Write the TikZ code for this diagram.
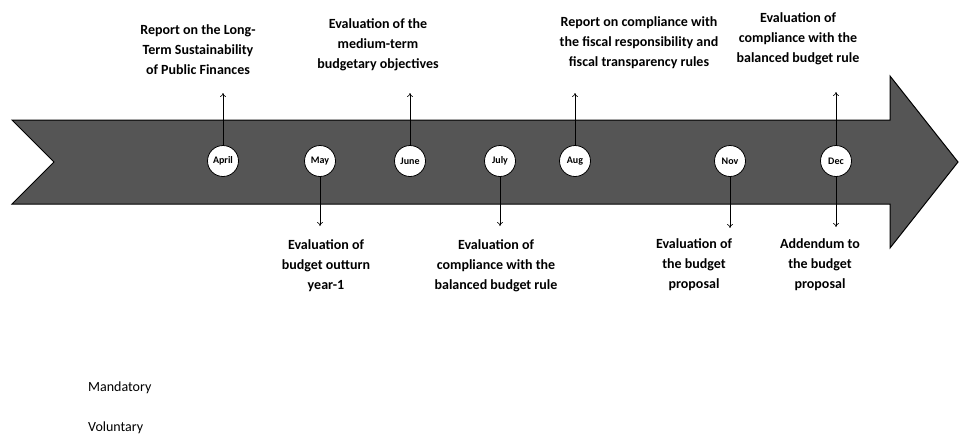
\documentclass[tikz,border=0pt]{standalone}
\usepackage{fontspec}
\setmainfont{Carlito}
\usetikzlibrary{arrows.meta}
\definecolor{band}{RGB}{85,85,85}
\begin{document}
\begin{tikzpicture}[x=1pt,y=-1pt,
  lbl/.style={align=center,font=\fontsize{14}{20}\selectfont\bfseries,inner sep=0pt},
  month/.style={circle,draw=black,fill=white,line width=0.8pt,minimum size=31pt,inner sep=0pt,font=\fontsize{10}{11}\selectfont\bfseries},
  conn/.style={draw=black,line width=0.6pt,-{To[length=4pt,width=6pt]}},
  leg/.style={anchor=west,font=\fontsize{14}{16}\selectfont,inner sep=0pt}]
\useasboundingbox (0,0) rectangle (961,437);
% timeline arrow
\fill[band,draw=black,line width=1pt] (12,120) -- (890,120) -- (890,76) -- (958,162) -- (890,248) -- (890,204) -- (12,204) -- (54,162) -- cycle;
% months
\node[month] (apr) at (223,161) {April};
\node[month] (may) at (320,161) {May};
\node[month] (jun) at (410,161) {June};
\node[month] (jul) at (500,161) {July};
\node[month] (aug) at (575,161) {Aug};
\node[month] (nov) at (730,161) {Nov};
\node[month] (dec) at (836,161) {Dec};
% arrow ends
\coordinate (aprT) at (223,93);
\coordinate (junT) at (410,93);
\coordinate (augT) at (575,93);
\coordinate (decT) at (836,92);
\coordinate (mayB) at (320,226);
\coordinate (julB) at (500,226);
\coordinate (novB) at (730,228);
\coordinate (decB) at (836,227);
\draw[conn] (apr.north) -- (aprT);
\draw[conn] (jun.north) -- (junT);
\draw[conn] (aug.north) -- (augT);
\draw[conn] (dec.north) -- (decT);
\draw[conn] (may.south) -- (mayB);
\draw[conn] (jul.south) -- (julB);
\draw[conn] (nov.south) -- (novB);
\draw[conn] (dec.south) -- (decB);
% top labels
\node[lbl] (t1) at (198,50) {Report on the Long-\\Term Sustainability\\of Public Finances};
\node[lbl] (t2) at (378,45) {Evaluation of the\\medium-term\\budgetary objectives};
\node[lbl] (t3) at (639,43) {Report on compliance with\\the fiscal responsibility and\\fiscal transparency rules};
\node[lbl] (t4) at (798,39) {Evaluation of\\compliance with the\\balanced budget rule};
% bottom labels
\node[lbl] (b1) at (326,266) {Evaluation of\\budget outturn\\year-1};
\node[lbl] (b2) at (496,266) {Evaluation of\\compliance with the\\balanced budget rule};
\node[lbl] (b3) at (694,265) {Evaluation of\\the budget\\proposal};
\node[lbl] (b4) at (820,265) {Addendum to\\the budget\\proposal};
% legend
\node[leg] (m) at (88,388) {Mandatory};
\node[leg] (v) at (88,428) {Voluntary};
\end{tikzpicture}
\end{document}
